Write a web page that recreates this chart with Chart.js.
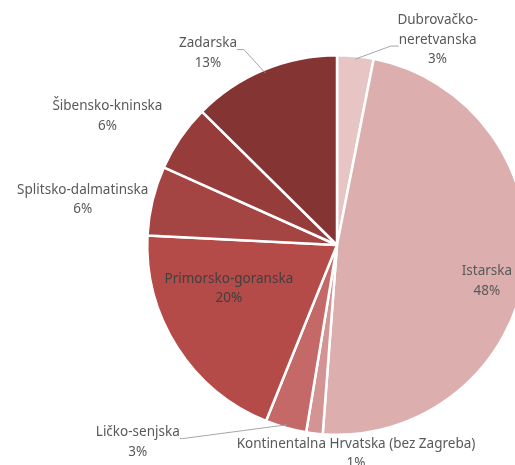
<!DOCTYPE html>
<html>
<head>
<meta charset="utf-8">
<script src="https://cdn.jsdelivr.net/npm/chart.js@4"></script>
<style>
  html, body { margin: 0; padding: 0; background: #fff; overflow: hidden; }
  #wrap { position: absolute; left: 0; top: 0; width: 680px; height: 490px; }
</style>
</head>
<body>
<div id="wrap"><canvas id="grafik" width="680" height="490"></canvas></div>
<script>
// Podaci (udio po županijama, %)
const zupanije = ['Dubrovačko-neretvanska', 'Istarska', 'Kontinentalna Hrvatska (bez Zagreba)',
  'Ličko-senjska', 'Primorsko-goranska', 'Splitsko-dalmatinska', 'Šibensko-kninska', 'Zadarska'];
const udjeli = [3.1, 48.1, 1.4, 3.5, 19.7, 5.9, 5.7, 12.6];
const boje = ['#e7c5c5', '#dcaeae', '#d49494', '#c46868', '#b54b49', '#a44543', '#963c3b', '#853434'];

// Redovi teksta oznaka
const oznake = [
  ['Dubrovačko-', 'neretvanska', '3%'],
  ['Istarska', '48%'],
  ['Kontinentalna Hrvatska (bez Zagreba)', '1%'],
  ['Ličko-senjska', '3%'],
  ['Primorsko-goranska', '20%'],
  ['Splitsko-dalmatinska', '6%'],
  ['Šibensko-kninska', '6%'],
  ['Zadarska', '13%']
];
// Položaj oznake u odnosu na središte, u jedinicama polumjera
const polozaj = [[0.53, -1.08], [0.79, 0.19], [0.10, 1.10], [-1.05, 1.04],
  [-0.57, 0.23], [-1.34, -0.24], [-1.21, -0.68], [-0.68, -1.01]];
const bojeTeksta = ['#595959', '#595959', '#595959', '#595959', '#404040', '#595959', '#595959', '#595959'];

// Plugin koji crta oznake i linije vodilice
const oznakePlugin = {
  id: 'oznake',
  afterDatasetsDraw(chart) {
    const ctx = chart.ctx;
    const arcs = chart.getDatasetMeta(0).data;
    const cx = arcs[0].x, cy = arcs[0].y, r = arcs[0].outerRadius;
    ctx.save();
    ctx.font = '13.5px "Noto Sans", sans-serif';
    ctx.textAlign = 'center';
    ctx.textBaseline = 'middle';
    const lh = 19.5;
    arcs.forEach((arc, i) => {
      const lx = cx + polozaj[i][0] * r;
      const ly = cy + polozaj[i][1] * r;
      const redovi = oznake[i];
      const y0 = ly - (redovi.length - 1) * lh / 2;
      ctx.fillStyle = bojeTeksta[i];
      redovi.forEach((t, k) => ctx.fillText(t, lx, y0 + k * lh));

      // linije vodilice za male isječke
      const mid = (arc.startAngle + arc.endAngle) / 2;
      const ex = cx + Math.cos(mid) * (r - 3), ey = cy + Math.sin(mid) * (r - 3);
      ctx.strokeStyle = '#a6a6a6';
      ctx.lineWidth = 1;
      if (i === 0) {
        const w = ctx.measureText(redovi[1]).width;
        const tx = lx - w / 2, ty = y0 + lh + 6;
        ctx.beginPath(); ctx.moveTo(tx, ty); ctx.lineTo(tx - 8, ty); ctx.lineTo(ex, ey); ctx.stroke();
      }
      if (i === 7) {
        const w = ctx.measureText(redovi[0]).width;
        const tx = lx + w / 2, ty = y0 + 6;
        ctx.beginPath(); ctx.moveTo(tx, ty); ctx.lineTo(tx + 7, ty); ctx.lineTo(ex, ey); ctx.stroke();
      }
      if (i === 3) {
        const w = ctx.measureText(redovi[0]).width;
        const tx = lx + w / 2, ty = y0 + 6;
        ctx.beginPath(); ctx.moveTo(tx, ty); ctx.lineTo(tx + 3, ty); ctx.lineTo(ex, ey); ctx.stroke();
      }
    });
    ctx.restore();
  }
};

new Chart(document.getElementById('grafik'), {
  type: 'pie',
  data: {
    labels: zupanije,
    datasets: [{
      data: udjeli,
      backgroundColor: boje,
      borderColor: '#ffffff',
      borderWidth: 2.5
    }]
  },
  options: {
    responsive: false,
    animation: false,
    layout: { padding: { left: 146, right: 152, top: 54, bottom: 54 } },
    plugins: {
      legend: { display: false },
      tooltip: { enabled: false },
      title: { display: false }
    }
  },
  plugins: [oznakePlugin]
});
</script>
</body>
</html>
